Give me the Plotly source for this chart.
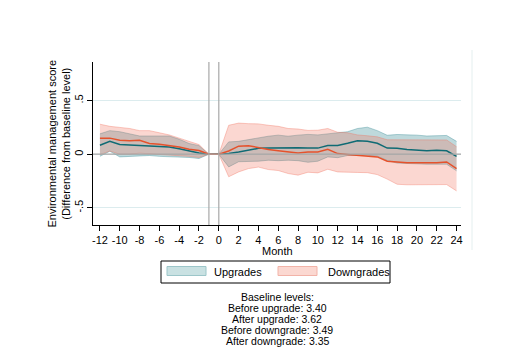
import plotly.graph_objects as go

months = list(range(-12, 25))

up_est = [0.083, 0.12, 0.09, 0.085, 0.08, 0.078, 0.07, 0.068, 0.052, 0.03, 0.012, 0, 0,
          0.006, 0.02, 0.04, 0.055, 0.057, 0.058, 0.065, 0.06, 0.057, 0.057, 0.082, 0.082,
          0.102, 0.125, 0.12, 0.102, 0.057, 0.055, 0.043, 0.037, 0.033, 0.037, 0.032, -0.02]
up_hi = [0.19, 0.22, 0.21, 0.19, 0.17, 0.17, 0.17, 0.17, 0.14, 0.10, 0.08, 0, 0,
         0.115, 0.12, 0.137, 0.155, 0.168, 0.178, 0.168, 0.178, 0.185, 0.18, 0.188, 0.2,
         0.21, 0.24, 0.252, 0.22, 0.177, 0.184, 0.184, 0.178, 0.17, 0.176, 0.175, 0.12]
up_lo = [-0.02, 0.028, -0.025, -0.02, -0.012, -0.012, -0.02, -0.022, -0.025, -0.03, -0.04, 0, 0,
         -0.118, -0.07, -0.07, -0.065, -0.056, -0.06, -0.056, -0.06, -0.075, -0.065, -0.025, -0.032,
         -0.012, -0.01, -0.01, -0.018, -0.058, -0.083, -0.087, -0.093, -0.093, -0.093, -0.093, -0.155]

down_est = [0.15, 0.15, 0.13, 0.125, 0.13, 0.10, 0.092, 0.083, 0.068, 0.046, 0.035, 0, 0,
            0.03, 0.075, 0.08, 0.06, 0.045, 0.033, 0.02, 0.012, 0.02, 0.02, 0.045, 0.006,
            -0.003, -0.01, -0.017, -0.025, -0.065, -0.073, -0.079, -0.08, -0.08, -0.08, -0.072, -0.135]
down_hi = [0.28, 0.26, 0.25, 0.24, 0.22, 0.22, 0.2, 0.18, 0.15, 0.12, 0.09, 0, 0,
           0.27, 0.29, 0.285, 0.283, 0.27, 0.26, 0.24, 0.235, 0.222, 0.224, 0.24, 0.205,
           0.2, 0.18, 0.172, 0.162, 0.135, 0.135, 0.133, 0.133, 0.133, 0.134, 0.133, 0.07]
down_lo = [-0.005, 0.03, 0.0, 0.0, 0.01, 0.005, 0.0, -0.005, -0.01, -0.02, -0.03, 0, 0,
           -0.21, -0.165, -0.134, -0.12, -0.143, -0.152, -0.18, -0.195, -0.168, -0.174, -0.14, -0.165,
           -0.17, -0.17, -0.172, -0.19, -0.232, -0.28, -0.285, -0.285, -0.285, -0.283, -0.283, -0.342]

x_ticks = list(range(-12, 25, 2))
y_ticks = [-0.5, 0, 0.5]
y_ticklabels = ["-.5", "0", ".5"]
event_lines = [-1, 0]
legend_labels = ["Upgrades", "Downgrades"]
baseline_text = ["Baseline levels:", "Before upgrade: 3.40", "After upgrade: 3.62",
                 "Before downgrade: 3.49", "After downgrade: 3.35"]

# page is rendered with an 8px body margin: size the figure so it fills the window
OFF = 8
PAGE_W, PAGE_H = 512, 362
W, H = PAGE_W - OFF, PAGE_H - OFF
# plot area in page pixels
L, R, T, B = 93, 461, 62, 225
FONT = "Liberation Sans, Arial, sans-serif"

def px(x):
    return (x - L) / (R - L)

def py(y):
    return (B - y) / (B - T)

TEAL = "#0f6b74"
ORANGE = "#e5522c"
TEAL_FILL = "rgba(40,130,140,0.30)"
TEAL_EDGE = "rgba(40,130,140,0.45)"
PINK_FILL = "rgba(240,110,90,0.28)"
PINK_EDGE = "rgba(240,110,90,0.45)"

fig = go.Figure()

fig.add_trace(go.Scatter(x=months, y=up_lo, mode="lines", line=dict(color=TEAL_EDGE, width=0.8),
                         showlegend=False, hoverinfo="skip"))
fig.add_trace(go.Scatter(x=months, y=up_hi, mode="lines", line=dict(color=TEAL_EDGE, width=0.8),
                         fill="tonexty", fillcolor=TEAL_FILL, showlegend=False, hoverinfo="skip"))
fig.add_trace(go.Scatter(x=months, y=down_lo, mode="lines", line=dict(color=PINK_EDGE, width=0.8),
                         showlegend=False, hoverinfo="skip"))
fig.add_trace(go.Scatter(x=months, y=down_hi, mode="lines", line=dict(color=PINK_EDGE, width=0.8),
                         fill="tonexty", fillcolor=PINK_FILL, showlegend=False, hoverinfo="skip"))
fig.add_trace(go.Scatter(x=months, y=up_est, mode="lines", line=dict(color=TEAL, width=1.5),
                         showlegend=False))
fig.add_trace(go.Scatter(x=months, y=down_est, mode="lines", line=dict(color=ORANGE, width=1.5),
                         showlegend=False))

shapes = []
for v in event_lines:
    shapes.append(dict(type="line", xref="x", yref="paper", x0=v, x1=v, y0=0, y1=1,
                       line=dict(color="#a8a8a8", width=1.2), layer="above"))
shapes.append(dict(type="line", xref="paper", yref="y", x0=0, x1=1, y0=0, y1=0,
                   line=dict(color="#a8a8a8", width=1.2), layer="above"))
shapes.append(dict(type="line", xref="paper", yref="paper", x0=px(472), x1=px(472),
                   y0=py(50), y1=py(250), line=dict(color="#e4efef", width=1)))
# legend
shapes.append(dict(type="rect", xref="paper", yref="paper", x0=px(161), x1=px(390),
                   y0=py(283), y1=py(261), line=dict(color="black", width=1), fillcolor="white"))
shapes.append(dict(type="rect", xref="paper", yref="paper", x0=px(167), x1=px(206),
                   y0=py(275.5), y1=py(266.5), line=dict(color="#9cc6c9", width=1),
                   fillcolor="#c9e1e2"))
shapes.append(dict(type="rect", xref="paper", yref="paper", x0=px(278), x1=px(317),
                   y0=py(275.5), y1=py(266.5), line=dict(color="#f2b3a8", width=1),
                   fillcolor="#fbd8d1"))

annotations = [
    dict(text="Environmental management score<br>(Difference from baseline level)",
         xref="paper", yref="paper", x=px(73), y=py(143.5), xanchor="right", yanchor="middle",
         textangle=-90, showarrow=False, font=dict(family=FONT, size=11, color="black")),
    dict(text=legend_labels[0], xref="paper", yref="paper", x=px(212), y=py(271.5),
         xanchor="left", yanchor="middle", showarrow=False,
         font=dict(family=FONT, size=11, color="black")),
    dict(text=legend_labels[1], xref="paper", yref="paper", x=px(326), y=py(271.5),
         xanchor="left", yanchor="middle", showarrow=False,
         font=dict(family=FONT, size=11, color="black")),
    dict(text="Month", xref="paper", yref="paper", x=px(277), y=py(251), xanchor="center",
         yanchor="middle", showarrow=False, font=dict(family=FONT, size=11, color="black")),
]
line_y = [296.5, 307.5, 318.5, 329.5, 340.5]
for txt, yy in zip(baseline_text, line_y):
    annotations.append(dict(text=txt, xref="paper", yref="paper", x=px(277), y=py(yy),
                            xanchor="center", yanchor="middle", showarrow=False, borderpad=0,
                            font=dict(family=FONT, size=10.5, color="black")))

fig.update_layout(
    width=W, height=H,
    margin=dict(l=L - OFF, r=PAGE_W - R, t=T - OFF, b=PAGE_H - B, pad=0),
    paper_bgcolor="white", plot_bgcolor="white",
    showlegend=False,
    font=dict(family=FONT, size=11, color="black"),
    shapes=shapes, annotations=annotations,
    xaxis=dict(range=[-12.7, 24.45], tickvals=x_ticks, ticktext=[str(t) for t in x_ticks],
               showgrid=False, zeroline=False, showline=True, linecolor="black", linewidth=1,
               ticks="outside", ticklen=5, tickcolor="black", tickwidth=1,
               tickfont=dict(family=FONT, size=11, color="black")),
    yaxis=dict(range=[-0.66, 0.86], tickvals=y_ticks, ticktext=y_ticklabels, tickangle=-90,
               showgrid=True, gridcolor="#dcecee", gridwidth=1, zeroline=False,
               showline=True, linecolor="black", linewidth=1,
               ticks="outside", ticklen=5, tickcolor="black", tickwidth=1,
               tickfont=dict(family=FONT, size=11, color="black")),
)

fig.write_html("out.html")
